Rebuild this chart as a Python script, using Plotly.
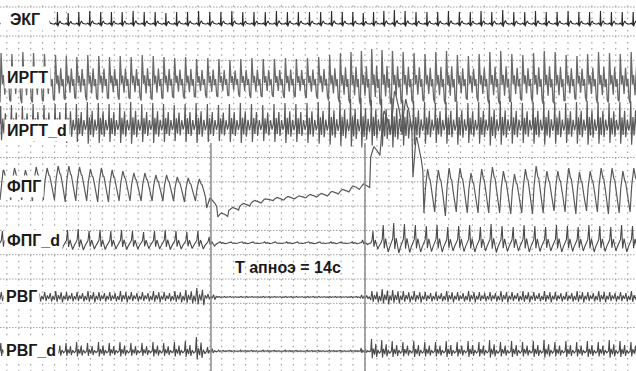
import numpy as np
import plotly.graph_objects as go

# ---------------------------------------------------------------------------
# Beat-to-beat (RR) intervals, seconds
rr = [0.98, 1.00, 0.97, 0.99, 1.01, 0.98, 0.96, 0.99, 1.00, 0.98,
      0.97, 0.99, 1.01, 1.00, 0.98, 0.97, 0.99, 1.00, 1.02, 1.01,
      1.00, 0.99, 1.01, 1.03, 1.02, 1.00, 0.99, 1.01, 1.02, 1.00,
      0.98, 0.96, 0.95, 0.94, 0.93, 0.95, 0.97, 0.99, 1.00, 0.98,
      0.97, 0.99, 1.00, 0.98, 0.97, 0.99, 1.01, 1.00, 0.98, 0.97,
      0.99, 1.00, 0.98, 0.97, 0.99, 1.00, 0.98, 0.99, 1.00]

# One-beat waveform shapes (phase within beat, normalised value)
ecg_phase = [0.00, 0.10, 0.18, 0.24, 0.28, 0.32, 0.38, 0.52, 0.64, 0.85]
ecg_shape = [0.00, 0.08, 0.00, -0.08, 1.00, -0.20, 0.00, 0.25, 0.05, 0.00]

irgt_phase = [0.00, 0.10, 0.22, 0.32, 0.45, 0.58, 0.70, 0.80, 0.90]
irgt_shape = [-0.90, 1.00, -0.20, 0.15, -0.60, 0.45, -0.30, 0.00, -0.80]

irgtd_phase = [0.00, 0.06, 0.14, 0.26, 0.36, 0.50, 0.60, 0.75, 0.88]
irgtd_shape = [0.00, 1.00, -0.90, 0.30, -0.50, 0.60, -0.60, 0.20, -0.30]

ppg_phase = [0.00, 0.15, 0.28, 0.34, 0.50, 0.58, 0.75, 0.90]
ppg_shape = [-1.00, 0.20, 0.95, 1.00, 0.55, 0.50, -0.10, -0.70]

ppgd_phase = [0.00, 0.12, 0.22, 0.32, 0.45, 0.55, 0.70, 0.85]
ppgd_shape = [0.00, 0.20, 1.00, -0.30, 0.25, -0.10, -0.50, -0.20]

rvg_phase = [0.00, 0.12, 0.24, 0.36, 0.50, 0.62, 0.74, 0.86]
rvg_shape = [-0.50, 1.00, -0.80, 0.30, -0.40, 0.80, -0.90, 0.20]

rvgd_phase = [0.00, 0.08, 0.15, 0.25, 0.38, 0.50, 0.58, 0.70, 0.85]
rvgd_shape = [0.00, 1.00, -0.60, 0.20, -0.30, 0.60, -0.50, 0.10, -0.20]

# Per-beat amplitudes of each channel
ecg_amp = [12, 13, 12, 12, 13, 12, 11, 12, 13, 12,
           12, 12, 13, 12, 12, 11, 12, 12, 13, 12,
           12, 13, 12, 12, 12, 13, 12, 12, 12, 12,
           13, 12, 12, 11, 12, 13, 14, 13, 12, 12,
           12, 13, 12, 12, 13, 12, 14, 12, 12, 13,
           12, 12, 13, 12, 12, 13, 12, 12, 12]

irgt_amp = [26, 25, 27, 26, 25, 24, 23, 22, 24, 23,
            22, 23, 22, 24, 23, 22, 21, 22, 20, 21,
            20, 19, 20, 21, 20, 20, 21, 20, 21, 22,
            24, 26, 27, 28, 30, 29, 28, 27, 26, 25,
            27, 28, 24, 23, 25, 27, 28, 25, 24, 26,
            28, 27, 24, 23, 25, 27, 26, 25, 27]

irgtd_amp = [18, 19, 18, 20, 19, 20, 21, 20, 22, 21,
             20, 21, 22, 20, 21, 20, 19, 20, 21, 20,
             19, 20, 21, 20, 19, 20, 21, 20, 21, 22,
             23, 24, 25, 26, 24, 25, 26, 24, 23, 22,
             21, 22, 23, 21, 22, 24, 23, 22, 21, 22,
             23, 22, 21, 22, 23, 22, 21, 22, 23]

ppg_level = [0, 1, 0, 1, 1, 2, 1, 1, 0, 0,
             -1, -1, -2, -2, -3, -3, -4, -5, -5, -18,
             -30, -24, -20, -17, -15, -14, -13, -12, -11, -10,
             -8, -6, -3, -1, 33, 60, 76, 68, 28, -6,
             -6, -7, -5, -8, -6, -5, -7, -9, -6, -5,
             -7, -6, -5, -8, -6, -5, -6, -7, -5]

ppg_amp = [15, 16, 15, 17, 16, 17, 18, 17, 16, 17,
           16, 15, 14, 14, 13, 13, 12, 12, 11, 5,
           2, 1.5, 1.5, 1.5, 1.2, 1.5, 1.5, 1.2, 1.5, 1.5,
           1.5, 1.5, 2, 2, 5, 14, 18, 18, 20, 22,
           21, 24, 22, 20, 22, 23, 21, 20, 22, 24,
           21, 20, 22, 21, 20, 22, 23, 21, 22]

ppgd_amp = [12, 13, 12, 14, 13, 12, 13, 14, 12, 13,
            12, 13, 12, 11, 12, 13, 12, 11, 12, 6,
            1.2, 1, 1.2, 1, 1.2, 1, 1.2, 1, 1.2, 1,
            1.2, 1, 1.2, 3, 12, 18, 20, 19, 18, 17,
            18, 16, 17, 18, 16, 19, 17, 16, 18, 17,
            16, 18, 17, 16, 18, 17, 16, 18, 17]

rvg_amp = [5, 5, 6, 5, 5, 6, 5, 5, 6, 5,
           5, 6, 5, 5, 6, 5, 6, 7, 9, 3,
           0.6, 0.5, 0.6, 0.5, 0.6, 0.5, 0.6, 0.5, 0.6, 0.5,
           0.6, 0.5, 0.6, 2, 6, 8, 7, 6, 6, 5,
           5, 6, 5, 6, 5, 5, 6, 5, 6, 5,
           6, 5, 5, 6, 5, 6, 5, 5, 6]

rvgd_amp = [8, 9, 8, 9, 8, 9, 8, 9, 8, 9,
            8, 9, 8, 8, 9, 8, 9, 10, 14, 4,
            0.8, 0.6, 0.8, 0.6, 0.8, 0.6, 0.8, 0.6, 0.8, 0.6,
            0.8, 0.6, 0.8, 3, 12, 11, 10, 9, 10, 9,
            9, 10, 9, 10, 9, 11, 9, 10, 9, 10,
            11, 9, 10, 9, 10, 9, 11, 10, 9]

channel_names = ["ЭКГ", "ИРГТ", "ИРГТ_d", "ФПГ", "ФПГ_d", "РВГ", "РВГ_d"]

apnea_start = 19.18   # s
apnea_dur = 14.0      # s

# ---------------------------------------------------------------------------
W, H = 636, 371
PX_PER_S = 11.0
T_END = W / PX_PER_S

rr_arr = np.array(rr)
beat_t0 = np.concatenate([[0.0], np.cumsum(rr_arr)[:-1]])


def build(phase, shape, amp, level=None):
    xs, ys = [], []
    for k, (t0, d) in enumerate(zip(beat_t0, rr_arr)):
        lv = level[k] if level is not None else 0.0
        for p, v in zip(phase, shape):
            xs.append(t0 + p * d)
            ys.append(lv + amp[k] * v)
    return np.array(xs), np.array(ys)


# vertical centre of each channel strip (from top, px) and drawing style
channels = [
    (ecg_phase, ecg_shape, ecg_amp, None, 24, "#2a2a2a", 1.1),
    (irgt_phase, irgt_shape, irgt_amp, None, 79, "#6a6a6a", 1.3),
    (irgtd_phase, irgtd_shape, irgtd_amp, None, 124, "#5a5a5a", 1.2),
    (ppg_phase, ppg_shape, ppg_amp, ppg_level, 185, "#5a5a5a", 1.2),
    (ppgd_phase, ppgd_shape, ppgd_amp, None, 243, "#4a4a4a", 1.1),
    (rvg_phase, rvg_shape, rvg_amp, None, 297, "#4a4a4a", 1.1),
    (rvgd_phase, rvgd_shape, rvgd_amp, None, 351, "#4a4a4a", 1.1),
]
# label anchor (left px, centre px) and optional fixed box width
label_pos = [(0, 19, 44), (4, 77, None), (4, 130, None), (4, 186, None),
             (4, 240, None), (3, 296, None), (3, 350, None)]

fig = go.Figure()
for name, (ph, sh, amp, lvl, cy, col, lw) in zip(channel_names, channels):
    x, y = build(ph, sh, amp, lvl)
    fig.add_trace(go.Scatter(x=x, y=(H - cy) + y, mode="lines", name=name,
                             line=dict(color=col, width=lw), hoverinfo="skip"))

shapes = []
# dotted chart-paper grid
grid_col = "#a0a0a0"
for yy in [7] + [36 + 24.3 * k for k in range(14)]:
    shapes.append(dict(type="line", xref="x", yref="y", x0=0, x1=T_END,
                       y0=H - yy, y1=H - yy, layer="below",
                       line=dict(color=grid_col, width=1, dash="1.5px,1.5px")))
xp = 6.8
while xp < W:
    shapes.append(dict(type="line", xref="x", yref="y",
                       x0=xp / PX_PER_S, x1=xp / PX_PER_S,
                       y0=H - 5.6, y1=0, layer="below",
                       line=dict(color=grid_col, width=1.2, dash="1.5px,4.575px")))
    xp += 11.94

# apnea markers
for tx in (apnea_start, apnea_start + apnea_dur):
    shapes.append(dict(type="line", xref="x", yref="y", x0=tx, x1=tx,
                       y0=H - 143, y1=0, layer="above",
                       line=dict(color="#8a8a8a", width=1.5)))

label_font = dict(family="Liberation Sans, Arial", size=16, color="#1a1a1a")
annotations = []
for name, (lx, ly, bw) in zip(channel_names, label_pos):
    ann = dict(text=f"<b>{name}</b>", xref="paper", yref="y",
               x=lx / W, y=H - ly, xanchor="left", yanchor="middle",
               showarrow=False, bgcolor="white", borderpad=2, font=label_font)
    if bw:
        ann["width"] = bw
        ann["align"] = "center"
    annotations.append(ann)
annotations.append(dict(text=f"<b>Т апноэ = {apnea_dur:.0f}с</b>", xref="x", yref="y",
                        x=apnea_start + apnea_dur / 2, y=H - 267,
                        xanchor="center", yanchor="middle", showarrow=False,
                        font=label_font))

fig.update_layout(
    width=W, height=H, margin=dict(l=0, r=0, t=0, b=0),
    paper_bgcolor="white", plot_bgcolor="white", showlegend=False,
    xaxis=dict(visible=False, range=[0, T_END], fixedrange=True),
    yaxis=dict(visible=False, range=[0, H], fixedrange=True),
    shapes=shapes, annotations=annotations,
)

fig.write_html("out.html")
